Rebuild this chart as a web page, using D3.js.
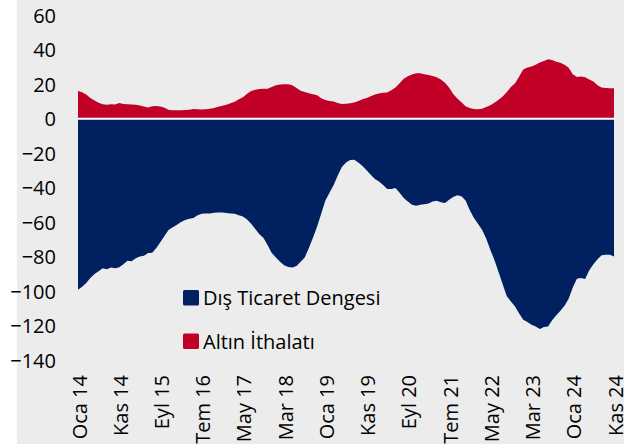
<!DOCTYPE html>
<html>
<head>
<meta charset="utf-8">
<script src="https://cdn.jsdelivr.net/npm/d3@7"></script>
<style>
  html, body { margin: 0; padding: 0; background: #fff; }
  svg { display: block; font-family: "Open Sans", sans-serif; }
</style>
</head>
<body>
<svg id="chart" width="624" height="444"></svg>
<script>
"use strict";

// month names (Turkish abbreviations), series start Oca 2014
const monthNames = ["Oca", "Şub", "Mar", "Nis", "May", "Haz", "Tem", "Ağu", "Eyl", "Eki", "Kas", "Ara"];

// Dış Ticaret Dengesi (12m rolling, bn USD)
const disTicaret = [
  -99.2, -97.5, -95.3, -92.5, -90.1, -88.5, -86.8, -87.3, -86.4, -86.8,
  -86.2, -84.5, -82.5, -82.7, -81.0, -80.0, -79.5, -78.0, -77.8, -75.0,
  -71.5, -68.0, -64.5, -63.0, -61.5, -60.0, -58.8, -58.0, -57.6, -56.0,
  -55.2, -55.0, -55.0, -54.6, -54.4, -54.4, -54.8, -55.0, -55.2, -56.0,
  -56.7, -58.5, -61.0, -64.0, -67.0, -69.2, -73.5, -77.9, -80.5, -83.0,
  -85.0, -86.0, -86.3, -85.5, -83.0, -80.5, -75.0, -69.0, -62.5, -55.0,
  -47.5, -43.0, -38.5, -33.0, -28.0, -25.5, -24.0, -23.8, -25.5, -27.5,
  -30.0, -32.5, -35.0, -36.5, -38.5, -40.8, -40.8, -40.3, -43.0, -46.0,
  -48.0, -50.0, -50.5, -50.0, -49.6, -49.2, -48.0, -47.6, -48.5, -49.0,
  -47.0, -45.5, -44.5, -45.0, -47.5, -53.0, -57.5, -61.0, -64.5, -69.5,
  -76.0, -82.0, -89.0, -96.0, -103.0, -106.0, -109.0, -113.0, -116.6, -118.0,
  -119.5, -120.5, -122.0, -120.8, -120.5, -117.0, -114.0, -111.5, -108.5, -104.5,
  -98.0, -92.8, -92.5, -93.0, -88.0, -84.5, -81.5, -79.3, -79.0, -79.0,
  -79.9
];

// Altın İthalatı
const altinIthalat = [
  16.1, 15.3, 14.0, 12.0, 10.5, 9.2, 8.4, 8.0, 8.3, 8.2,
  9.1, 8.5, 8.3, 8.2, 8.0, 7.6, 7.0, 6.5, 7.2, 7.4,
  7.0, 6.3, 5.0, 4.9, 4.9, 4.9, 5.0, 5.2, 5.6, 5.5,
  5.3, 5.4, 5.8, 6.2, 6.9, 7.5, 8.0, 8.9, 9.8, 11.2,
  12.4, 14.5, 16.0, 16.8, 17.2, 17.3, 17.4, 18.4, 19.4, 19.8,
  20.0, 19.9, 19.3, 17.8, 16.2, 15.4, 14.8, 14.2, 13.5, 11.8,
  10.8, 10.3, 10.0, 9.0, 8.5, 8.7, 8.9, 9.4, 10.2, 11.2,
  11.9, 13.0, 14.0, 14.6, 15.0, 15.2, 16.5, 18.0, 20.5, 23.2,
  24.6, 25.6, 26.4, 26.3, 25.7, 25.3, 24.8, 24.0, 22.7, 20.8,
  18.0, 14.3, 11.7, 9.5, 7.2, 6.2, 5.6, 5.5, 5.8, 6.7,
  7.8, 9.2, 11.0, 12.9, 15.5, 18.3, 20.5, 24.5, 28.5, 29.6,
  30.2, 31.3, 32.5, 33.5, 34.4, 34.0, 33.0, 32.4, 31.2, 29.5,
  25.8, 24.2, 24.4, 24.0, 22.7, 21.5, 19.3, 18.0, 17.8, 17.7,
  17.7
];

const yTicks = [-140, -120, -100, -80, -60, -40, -20, 0, 20, 40, 60];
const seriesNames = ["Dış Ticaret Dengesi", "Altın İthalatı"];
const seriesColors = ["#002060", "#C00027"];

// category labels built from the month list
const months = disTicaret.map((_, i) => monthNames[i % 12] + " " + (14 + Math.floor(i / 12)));

const W = 624, H = 444;
const P = { left: 78, right: 614, top: 15.2, bottom: 360 };

const svg = d3.select("#chart");

// gray chart canvas (white strip on the left edge)
svg.append("rect").attr("x", 17).attr("y", 0).attr("width", W - 17).attr("height", H).attr("fill", "#ececec");

const x = d3.scalePoint().domain(months).range([P.left, P.right]);
const y = d3.scaleLinear().domain([-140, 60]).range([P.bottom, P.top]);

const rows = months.map((m, i) => ({ m, dt: disTicaret[i], al: altinIthalat[i] }));

// areas
const areaDt = d3.area().x(d => x(d.m)).y0(y(0)).y1(d => y(d.dt));
const areaAl = d3.area().x(d => x(d.m)).y0(y(0)).y1(d => y(d.al));

svg.append("path").datum(rows).attr("d", areaDt).attr("fill", seriesColors[0]);
svg.append("path").datum(rows).attr("d", areaAl).attr("fill", seriesColors[1]);

// zero line
svg.append("line")
  .attr("x1", P.left).attr("x2", P.right + 1)
  .attr("y1", y(0)).attr("y2", y(0))
  .attr("stroke", "#fff").attr("stroke-width", 2);

// y axis
const yAxis = svg.append("g")
  .attr("transform", `translate(${P.left - 22},0)`)
  .call(d3.axisLeft(y).tickValues(yTicks).tickSize(0).tickPadding(0).tickFormat(d3.format("d")));
yAxis.select(".domain").remove();
yAxis.selectAll("text")
  .attr("fill", "#000").style("font-size", "20px").style("font-family", "'Open Sans', sans-serif")
  .attr("dy", "0.35em");

// x axis, every 10th month
const xAxis = svg.append("g")
  .attr("transform", `translate(0,${P.bottom})`)
  .call(d3.axisBottom(x).tickValues(months.filter((_, i) => i % 10 === 0)).tickSize(0));
xAxis.select(".domain").remove();
xAxis.selectAll("text")
  .attr("fill", "#000").style("font-size", "20px").style("font-family", "'Open Sans', sans-serif")
  .attr("text-anchor", "end")
  .attr("x", 0).attr("y", 0).attr("dy", 0)
  .attr("transform", "translate(8,15) rotate(-90)");

// legend
const legend = svg.append("g").attr("transform", "translate(183,290)");
seriesNames.forEach((name, i) => {
  const row = legend.append("g").attr("transform", `translate(0,${i * 43.5})`);
  row.append("rect").attr("width", 16).attr("height", 15.5).attr("rx", 1.5).attr("fill", seriesColors[i]);
  row.append("text")
    .attr("x", 20).attr("y", 15)
    .attr("fill", "#000").style("font-size", "20px")
    .text(name);
});
</script>
</body>
</html>
